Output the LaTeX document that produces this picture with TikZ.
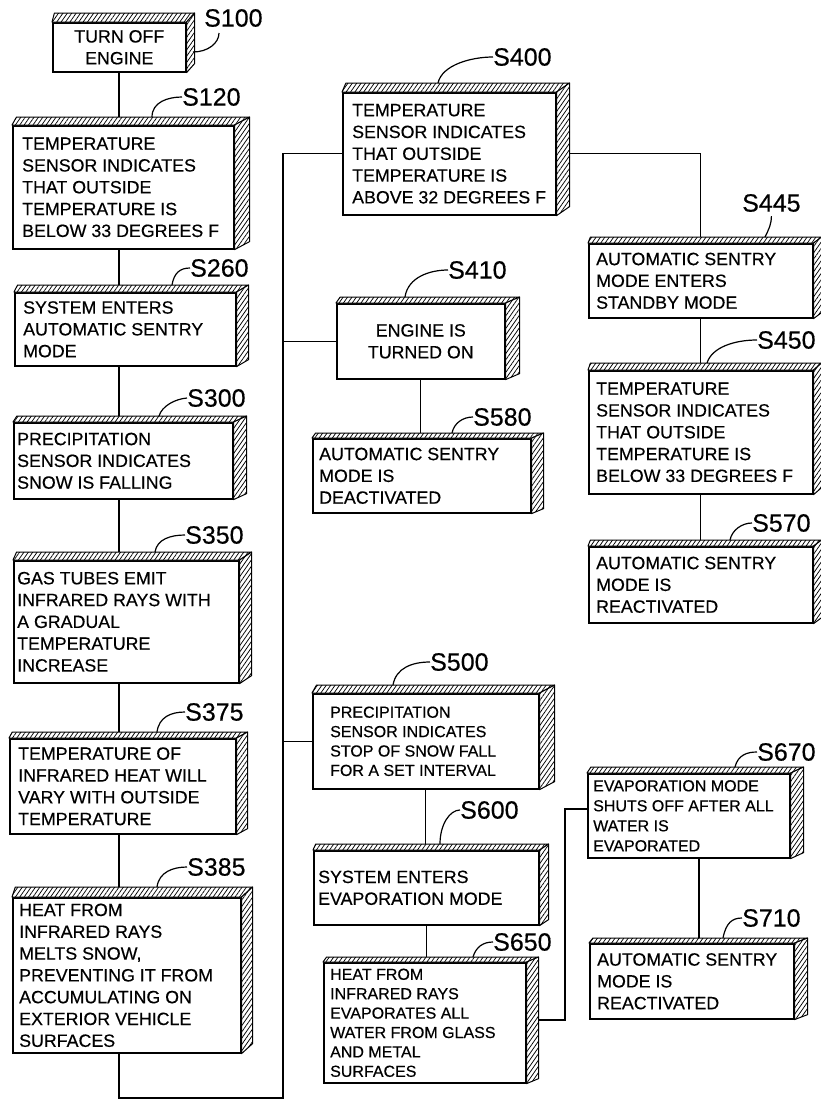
\documentclass[tikz,border=0pt]{standalone}
\usepackage{fontspec}
\setmainfont{Liberation Sans}[FakeBold=0.4]
\usetikzlibrary{patterns.meta,calc}
\pgfdeclarelayer{bg}
\pgfsetlayers{bg,main}
\newcommand\mainf{\fontsize{17.8}{21.8}\selectfont}
\newcommand\smallf{\fontsize{16}{19.4}\selectfont}
\tikzset{
 fbox/.style={draw, line width=1.6pt, fill=white, inner sep=0pt, anchor=north west},
 ctxt/.style={align=center, font=\mainf},
 txt/.style={inner sep=0pt, align=left, anchor=west, font=\mainf},
 stxt/.style={txt, font=\smallf},
 hatch/.style={draw, line width=1pt, line join=round, preaction={fill=white},
   pattern={Lines[angle=55,distance=3.6pt,line width=0.75pt]}},
 lab/.style={inner sep=0pt, anchor=west, font=\fontsize{25}{30}\selectfont},
 conn/.style={draw, line width=1.2pt},
 leader/.style={draw, line width=1.2pt},
}
\newcommand\boxfaces[3]{%
  \draw[hatch] (#1.north west) -- ++(0.3*#2,-#3) -- ([xshift=#2pt,yshift=#3pt]#1.north east) -- (#1.north east) -- cycle;
  \draw[hatch] (#1.north east) -- ([xshift=#2pt,yshift=#3pt]#1.north east) -- ([xshift=#2pt,yshift=#3pt]#1.south east) -- (#1.south east) -- cycle;}
\begin{document}
\begin{tikzpicture}[x=1pt,y=-1pt]
\useasboundingbox (0,0) rectangle (820,1101);

% ---------- left column ----------
\node[fbox, ctxt, minimum width=133pt, minimum height=49pt] (s100) at (52,22) {TURN OFF\\ENGINE};
\boxfaces{s100}{8}{9}

\node[fbox, minimum width=221pt, minimum height=123pt] (s120) at (12,125) {};
\boxfaces{s120}{15}{8}
\node[txt] (s120t) at ([xshift=10pt]s120.west) {TEMPERATURE\\SENSOR INDICATES\\THAT OUTSIDE\\TEMPERATURE IS\\BELOW 33 DEGREES F};

\node[fbox, minimum width=221pt, minimum height=73pt] (s260) at (14,292) {};
\boxfaces{s260}{12}{7}
\node[txt] (s260t) at ([xshift=9pt]s260.west) {SYSTEM ENTERS\\AUTOMATIC SENTRY\\MODE};

\node[fbox, minimum width=219pt, minimum height=76pt] (s300) at (13,422) {};
\boxfaces{s300}{13}{6}
\node[txt] (s300t) at ([xshift=4pt]s300.west) {PRECIPITATION\\SENSOR INDICATES\\SNOW IS FALLING};

\node[fbox, minimum width=225pt, minimum height=122pt] (s350) at (13,560) {};
\boxfaces{s350}{12}{8}
\node[txt] (s350t) at ([xshift=4pt]s350.west) {GAS TUBES EMIT\\INFRARED RAYS WITH\\A GRADUAL\\TEMPERATURE\\INCREASE};

\node[fbox, minimum width=226pt, minimum height=95pt] (s375) at (9,738) {};
\boxfaces{s375}{11}{6}
\node[txt] (s375t) at ([xshift=9pt]s375.west) {TEMPERATURE OF\\INFRARED HEAT WILL\\VARY WITH OUTSIDE\\TEMPERATURE};

\node[fbox, minimum width=228pt, minimum height=155pt] (s385) at (12,897) {};
\boxfaces{s385}{11}{10}
\node[txt] (s385t) at ([xshift=7pt]s385.west) {HEAT FROM\\INFRARED RAYS\\MELTS SNOW,\\PREVENTING IT FROM\\ACCUMULATING ON\\EXTERIOR VEHICLE\\SURFACES};

% ---------- middle column ----------
\node[fbox, minimum width=213pt, minimum height=122pt] (s400) at (342,92) {};
\boxfaces{s400}{13}{9}
\node[txt] (s400t) at ([xshift=10pt]s400.west) {TEMPERATURE\\SENSOR INDICATES\\THAT OUTSIDE\\TEMPERATURE IS\\ABOVE 32 DEGREES F};

\node[fbox, ctxt, minimum width=168pt, minimum height=75pt] (s410) at (336,303) {ENGINE IS\\TURNED ON};
\boxfaces{s410}{14}{6}

\node[fbox, minimum width=218pt, minimum height=74pt] (s580) at (312,438) {};
\boxfaces{s580}{12}{5}
\node[txt] (s580t) at ([xshift=7pt]s580.west) {AUTOMATIC SENTRY\\MODE IS\\DEACTIVATED};

\node[fbox, minimum width=226pt, minimum height=95pt] (s500) at (312,693) {};
\boxfaces{s500}{15}{8}
\node[stxt] (s500t) at ([xshift=18pt]s500.west) {PRECIPITATION\\SENSOR INDICATES\\STOP OF SNOW FALL\\FOR A SET INTERVAL};

\node[fbox, minimum width=225pt, minimum height=74pt] (s600) at (313,850) {};
\boxfaces{s600}{9}{6}
\node[txt] (s600t) at ([xshift=5pt]s600.west) {SYSTEM ENTERS\\EVAPORATION MODE};

\node[fbox, minimum width=202pt, minimum height=120pt] (s650) at (323,962) {};
\boxfaces{s650}{12}{5}
\node[stxt] (s650t) at ([xshift=7pt]s650.west) {HEAT FROM\\INFRARED RAYS\\EVAPORATES ALL\\WATER FROM GLASS\\AND METAL\\SURFACES};

% ---------- right column ----------
\node[fbox, minimum width=224pt, minimum height=74pt] (s445) at (588,243) {};
\boxfaces{s445}{8}{6}
\node[txt] (s445t) at ([xshift=8pt]s445.west) {AUTOMATIC SENTRY\\MODE ENTERS\\STANDBY MODE};

\node[fbox, minimum width=224pt, minimum height=123pt] (s450) at (588,370) {};
\boxfaces{s450}{8}{7}
\node[txt] (s450t) at ([xshift=8pt]s450.west) {TEMPERATURE\\SENSOR INDICATES\\THAT OUTSIDE\\TEMPERATURE IS\\BELOW 33 DEGREES F};

\node[fbox, minimum width=224pt, minimum height=76pt] (s570) at (588,546) {};
\boxfaces{s570}{8}{6}
\node[txt] (s570t) at ([xshift=8pt]s570.west) {AUTOMATIC SENTRY\\MODE IS\\REACTIVATED};

\node[fbox, minimum width=202pt, minimum height=84pt] (s670) at (587,773) {};
\boxfaces{s670}{13}{6}
\node[stxt, font=\fontsize{16}{20}\selectfont] (s670t) at ([xshift=6pt]s670.west) {EVAPORATION MODE\\SHUTS OFF AFTER ALL\\WATER IS\\EVAPORATED};

\node[fbox, minimum width=204pt, minimum height=75pt] (s710) at (589,943) {};
\boxfaces{s710}{13}{5}
\node[txt] (s710t) at ([xshift=8pt]s710.west) {AUTOMATIC SENTRY\\MODE IS\\REACTIVATED};

% ---------- labels ----------
\node[lab] (l100) at (204,18) {S100};
\node[lab] (l120) at (182,97) {S120};
\node[lab] (l260) at (190,268) {S260};
\node[lab] (l300) at (187,398) {S300};
\node[lab] (l350) at (185,535) {S350};
\node[lab] (l375) at (185,712) {S375};
\node[lab] (l385) at (187,867) {S385};
\node[lab] (l400) at (493,57) {S400};
\node[lab] (l410) at (448,270) {S410};
\node[lab] (l580) at (473,417) {S580};
\node[lab] (l500) at (430,662) {S500};
\node[lab] (l600) at (460,810) {S600};
\node[lab] (l650) at (493,942) {S650};
\node[lab] (l445) at (742,203) {S445};
\node[lab] (l450) at (757,340) {S450};
\node[lab] (l570) at (752,523) {S570};
\node[lab] (l670) at (757,752) {S670};
\node[lab] (l710) at (742,918) {S710};

% ---------- leaders ----------
\coordinate (c100) at (193,52); \coordinate (e100) at (219,33);
\draw[leader] (c100) .. controls +(15,0) and +(0,10) .. (e100);
\coordinate (c120) at (152,117);
\draw[leader] (c120) .. controls +(0,-15) and +(-14,0) .. (l120.west);
\coordinate (c260) at (172,285);
\draw[leader] (c260) .. controls +(2,-12) and +(-10,0) .. (l260.west);
\coordinate (c300) at (159,416);
\draw[leader] (c300) .. controls +(3,-10) and +(-12,1) .. (l300.west);
\coordinate (c350) at (155,552);
\draw[leader] (c350) .. controls +(2,-13) and +(-14,0) .. (l350.west);
\coordinate (c375) at (157,732);
\draw[leader] (c375) .. controls +(2,-15) and +(-14,0) .. (l375.west);
\coordinate (c385) at (157,887);
\draw[leader] (c385) .. controls +(2,-15) and +(-14,0) .. (l385.west);
\coordinate (c400) at (438,83);
\draw[leader] (c400) .. controls +(4,-18) and +(-22,0) .. (l400.west);
\coordinate (c410) at (405,297);
\draw[leader] (c410) .. controls +(3,-20) and +(-18,0) .. (l410.west);
\coordinate (c580) at (452,433);
\draw[leader] (c580) .. controls +(2,-10) and +(-10,0) .. (l580.west);
\coordinate (c500) at (393,685);
\draw[leader] (c500) .. controls +(3,-17) and +(-18,0) .. (l500.west);
\coordinate (c600) at (440,844);
\draw[leader] (c600) .. controls +(0,-20) and +(-10,0) .. (l600.west);
\coordinate (c650) at (473,957);
\draw[leader] (c650) .. controls +(3,-10) and +(-10,0) .. (l650.west);
\coordinate (c445) at (765,237);
\draw[leader] (c445) .. controls +(4,-8) and +(0,8) .. ([yshift=-4pt]l445.south);
\coordinate (c450) at (707,363);
\draw[leader] (c450) .. controls +(5,-16) and +(-22,0) .. (l450.west);
\coordinate (c570) at (730,540);
\draw[leader] (c570) .. controls +(2,-10) and +(-10,0) .. (l570.west);
\coordinate (c670) at (735,767);
\draw[leader] (c670) .. controls +(3,-12) and +(-10,0) .. (l670.west);
\coordinate (c710) at (723,938);
\draw[leader] (c710) .. controls +(3,-15) and +(-10,0) .. (l710.west);

% ---------- connectors ----------
\begin{pgfonlayer}{bg}
\coordinate (colA) at (119,0);
\coordinate (b1) at (120,1098);
\coordinate (b2) at (283,1098);
\coordinate (r1) at (565,1020);
\coordinate (r2) at (565,809);
\coordinate (colR) at (699,0);
\draw[conn] (colA |- s100.south) -- (colA |- s120.north);
\draw[conn] (colA |- s120.south) -- (colA |- s260.north);
\draw[conn] (colA |- s260.south) -- (colA |- s300.north);
\draw[conn] (colA |- s300.south) -- (colA |- s350.north);
\draw[conn] (colA |- s350.south) -- (colA |- s375.north);
\draw[conn] (colA |- s375.south) -- (colA |- s385.north);
\draw[conn] (colA |- s385.south) -- (colA |- b1) -- (b2) |- (s400.west);
\draw[conn] (b2 |- s410.west) -- (s410.west);
\draw[conn] (b2 |- s500.west) -- (s500.west);
\draw[conn] (s400.east) -| (s445.north);
\draw[conn] (s445.south) -- (s450.north);
\draw[conn] (s450.south) -- (s570.north);
\draw[conn] (s410.south) -- (s410.south |- s580.north);
\draw[conn] (s500.south) -- (s500.south |- s600.north);
\draw[conn] (s600.south) -- (s600.south |- s650.north);
\draw[conn] (s650.east |- r1) -- (r1) -- (r2) -- (r2 -| s670.west);
\draw[conn] (colR |- s670.south) -- (colR |- s710.north);
\end{pgfonlayer}
\end{tikzpicture}
\end{document}
